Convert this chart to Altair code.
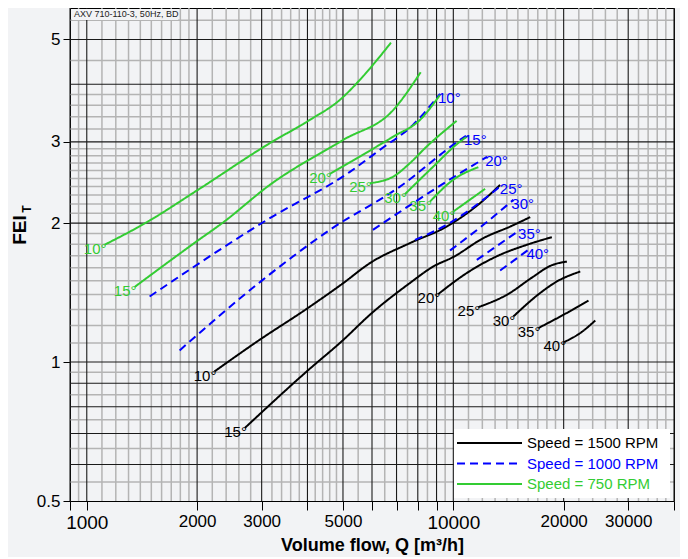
import altair as alt
import pandas as pd

# ---------------- curve data: Q [m3/h], FEI_T ----------------
# Speed = 1500 RPM (black, solid) - label at curve start
b10_q = [2230, 2960, 3980, 5010, 5920, 7610, 9590, 11830, 13420]
b10_f = [0.954, 1.117, 1.304, 1.483, 1.638, 1.810, 1.966, 2.210, 2.420]
b15_q = [2700, 3980, 5010, 5920, 7610, 8820, 10000, 12080, 14290, 16210]
b15_f = [0.720, 0.954, 1.117, 1.266, 1.483, 1.611, 1.689, 1.856, 1.966, 2.061]
b20_q = [9100, 10880, 13420, 15870, 18570]
b20_f = [1.404, 1.559, 1.708, 1.795, 1.865]
b25_q = [11700, 14000, 16540, 18380, 20410]
b25_f = [1.315, 1.399, 1.532, 1.616, 1.651]
b30_q = [14580, 17250, 19170, 22200]
b30_f = [1.255, 1.411, 1.495, 1.571]
b35_q = [17070, 19970, 23380]
b35_f = [1.185, 1.266, 1.359]
b40_q = [20070, 22200, 24390]
b40_f = [1.105, 1.156, 1.230]

# Speed = 1000 RPM (blue, dashed) - label at curve end
u10_q = [1484, 3157, 5222, 6304, 7762, 9198]
u10_f = [1.387, 2.050, 2.583, 2.883, 3.265, 3.811]
u15_q = [1792, 3020, 4604, 7151, 10430, 10830]
u15_f = [1.060, 1.507, 1.934, 2.400, 3.029, 3.090]
u20_q = [6035, 10430, 12370]
u20_f = [1.934, 2.566, 2.784]
u25_q = [7860, 9795, 12060, 13560]
u25_f = [1.840, 2.003, 2.246, 2.420]
u30_q = [9795, 12080, 14580]
u30_f = [1.745, 1.983, 2.246]
u35_q = [11590, 15210]
u35_f = [1.665, 1.934]
u40_q = [13420, 16030]
u40_f = [1.579, 1.751]

# Speed = 750 RPM (green, solid) - label at curve start
g10_q = [1118, 1453, 1990, 3157, 4060, 4901, 5559, 6035, 6759]
g10_f = [1.795, 2.006, 2.349, 2.980, 3.347, 3.698, 4.087, 4.404, 4.921]
g15_q = [1350, 1990, 2353, 3157, 5006, 6858, 8146]
g15_f = [1.454, 1.824, 2.006, 2.420, 3.029, 3.518, 4.246]
g20_q = [4604, 5559, 6858, 8110, 9198]
g20_f = [2.557, 2.788, 3.080, 3.347, 3.792]
g25_q = [5920, 6858, 7614, 8458, 10210]
g25_f = [2.441, 2.523, 2.698, 2.930, 3.331]
g30_q = [7379, 8819, 10430, 10970]
g30_f = [2.311, 2.652, 3.004, 3.090]
g35_q = [8636, 9982, 11700]
g35_f = [2.227, 2.481, 2.644]
g40_q = [10000, 12210]
g40_f = [2.119, 2.373]

speeds = ["1500", "1000", "750"]
speed_colors = ["#000000", "#0000ff", "#33cc33"]
legend_labels = ["Speed = 1500 RPM", "Speed = 1000 RPM", "Speed = 750 RPM"]

# grid / axis values
x_major = [900, 1000, 2000, 3000, 4000, 5000, 6000, 7000, 8000, 9000, 10000, 20000, 30000, 40000]
x_minor = [950, 1100, 1200, 1300, 1400, 1500, 1600, 1700, 1800, 1900,
           2200, 2400, 2600, 2800, 3200, 3400, 3600, 3800, 4200, 4400, 4600, 4800,
           5500, 6500, 7500, 8500, 9500,
           11000, 12000, 13000, 14000, 15000, 16000, 17000, 18000, 19000,
           22000, 24000, 26000, 28000, 32000, 34000, 36000, 38000]
x_labels = [1000, 2000, 3000, 5000, 10000, 20000, 30000]
y_major = [0.6, 0.7, 0.8, 0.9, 1, 2, 3, 4, 5]
y_minor = [0.55, 0.65, 0.75, 0.85, 0.95,
           1.1, 1.2, 1.3, 1.4, 1.5, 1.6, 1.7, 1.8, 1.9,
           2.1, 2.2, 2.3, 2.4, 2.5, 2.6, 2.7, 2.8, 2.9,
           3.2, 3.4, 3.6, 3.8, 4.5, 5.5]
y_labels = [0.5, 1, 2, 3, 5]

curves = [
    ("1500", "10°", b10_q, b10_f), ("1500", "15°", b15_q, b15_f), ("1500", "20°", b20_q, b20_f),
    ("1500", "25°", b25_q, b25_f), ("1500", "30°", b30_q, b30_f), ("1500", "35°", b35_q, b35_f),
    ("1500", "40°", b40_q, b40_f),
    ("1000", "10°", u10_q, u10_f), ("1000", "15°", u15_q, u15_f), ("1000", "20°", u20_q, u20_f),
    ("1000", "25°", u25_q, u25_f), ("1000", "30°", u30_q, u30_f), ("1000", "35°", u35_q, u35_f),
    ("1000", "40°", u40_q, u40_f),
    ("750", "10°", g10_q, g10_f), ("750", "15°", g15_q, g15_f), ("750", "20°", g20_q, g20_f),
    ("750", "25°", g25_q, g25_f), ("750", "30°", g30_q, g30_f), ("750", "35°", g35_q, g35_f),
    ("750", "40°", g40_q, g40_f),
]

rows, start_labels, end_labels = [], [], []
for spd, ang, qs, fs in curves:
    for i, (q, f) in enumerate(zip(qs, fs)):
        rows.append({"speed": spd, "key": spd + ang, "q": q, "f": f, "i": i})
    if spd == "1000":
        end_labels.append({"speed": spd, "q": qs[-1], "f": fs[-1], "t": ang})
    else:
        start_labels.append({"speed": spd, "q": qs[0], "f": fs[0], "t": ang})
df = pd.DataFrame(rows)

FONT = "Liberation Sans"
xscale = alt.Scale(type="log", domain=[900, 40000], nice=False)
yscale = alt.Scale(type="log", domain=[0.5, 5.85], nice=False)
label_test = " || ".join(f"datum.value == {v}" for v in x_labels)
xaxis = alt.Axis(
    title="Volume flow, Q [m³/h]", values=x_major, grid=False, domain=False,
    labelExpr=f"({label_test}) ? format(datum.value, 'd') : ''",
    labelOverlap=False, labelFlush=False, labelBound=False,
    labelFontSize={"condition": {"test": "datum.value == 1000 || datum.value == 10000", "value": 19}, "value": 17},
    labelPadding=3, tickSize=9, tickColor="#000", labelColor="#000", labelFont=FONT,
    titleFont=FONT, titleFontSize=18, titleFontWeight="bold", titleColor="#000", titlePadding=4,
)
yaxis = alt.Axis(
    title=None, values=y_labels, grid=False, domain=False,
    labelExpr="format(datum.value, '~g')", labelOverlap=False, labelFlush=False,
    labelFontSize=17, labelPadding=3, tickSize=7, tickColor="#000", labelColor="#000", labelFont=FONT,
)


def X(field):
    return alt.X(f"{field}:Q", scale=xscale, axis=xaxis)


def Y(field):
    return alt.Y(f"{field}:Q", scale=yscale, axis=yaxis)


color_enc = alt.Color("speed:N", scale=alt.Scale(domain=speeds, range=speed_colors), legend=None)

MINOR = "#b4b4b4"
MAJOR = "#1a1a1a"
gx_minor = alt.Chart(pd.DataFrame({"v": x_minor})).mark_rule(color=MINOR, strokeWidth=1.5).encode(x=X("v"))
gy_minor = alt.Chart(pd.DataFrame({"v": y_minor})).mark_rule(color=MINOR, strokeWidth=1.5).encode(y=Y("v"))
gx_major = alt.Chart(pd.DataFrame({"v": x_major})).mark_rule(color=MAJOR, strokeWidth=1.1).encode(x=X("v"))
gy_major = alt.Chart(pd.DataFrame({"v": y_major})).mark_rule(color=MAJOR, strokeWidth=1.1).encode(y=Y("v"))

lines = alt.Chart(df).mark_line(strokeWidth=2, interpolate="monotone").encode(
    x=X("q"), y=Y("f"), color=color_enc,
    strokeDash=alt.StrokeDash("speed:N", scale=alt.Scale(domain=speeds, range=[[1, 0], [8, 5], [1, 0]]), legend=None),
    detail="key:N", order="i:Q",
)

lab_start = alt.Chart(pd.DataFrame(start_labels)).mark_text(
    align="right", baseline="alphabetic", dx=2, dy=9, font=FONT, fontSize=15
).encode(x=X("q"), y=Y("f"), text="t:N", color=color_enc)
lab_end = alt.Chart(pd.DataFrame(end_labels)).mark_text(
    align="left", baseline="alphabetic", dx=-2, dy=9, font=FONT, fontSize=15
).encode(x=X("q"), y=Y("f"), text="t:N", color=color_enc)

# annotation in top-left corner
note_bg = alt.Chart(pd.DataFrame({"a": [0]})).mark_rect(color="#f2f3f5").encode(
    x=alt.value(2), x2=alt.value(108), y=alt.value(1), y2=alt.value(12))
note = alt.Chart(pd.DataFrame({"t": ["AXV 710-110-3, 50Hz, BD"]})).mark_text(
    align="left", baseline="alphabetic", font=FONT, fontSize=9, color="#222"
).encode(x=alt.value(4), y=alt.value(9), text="t:N")

# legend box
leg_layers = [alt.Chart(pd.DataFrame({"a": [0]})).mark_rect(color="#ffffff").encode(
    x=alt.value(384), x2=alt.value(600), y=alt.value(421), y2=alt.value(490))]
dashes = [[1, 0], [8, 5], [1, 0]]
for k, (lab, col, dash) in enumerate(zip(legend_labels, speed_colors, dashes)):
    yy = 435 + 20.5 * k
    leg_layers.append(alt.Chart(pd.DataFrame({"a": [0]})).mark_rule(
        color=col, strokeWidth=2, strokeDash=dash).encode(
        x=alt.value(387), x2=alt.value(452), y=alt.value(yy)))
    leg_layers.append(alt.Chart(pd.DataFrame({"t": [lab]})).mark_text(
        align="left", baseline="middle", font=FONT, fontSize=15, color=col).encode(
        x=alt.value(457), y=alt.value(yy), text="t:N"))

# y title FEI with subscript T
ytitle = alt.Chart(pd.DataFrame({"t": ["FEI"]})).mark_text(
    angle=270, align="center", baseline="middle", font=FONT, fontSize=19, fontWeight="bold", color="#000"
).encode(x=alt.value(-50), y=alt.value(222), text="t:N")
ysub = alt.Chart(pd.DataFrame({"t": ["T"]})).mark_text(
    angle=270, align="center", baseline="middle", font=FONT, fontSize=12, fontWeight="bold", color="#000"
).encode(x=alt.value(-43), y=alt.value(201), text="t:N")

chart = alt.layer(
    gx_minor, gy_minor, gx_major, gy_major, lines, lab_start, lab_end,
    note_bg, note, *leg_layers, ytitle, ysub
).properties(
    width=604, height=493,
    autosize=alt.AutoSizeParams(type="none"),
    padding={"left": 62, "top": 0, "right": 6, "bottom": 56},
    background="#f2f3f5",
).configure_view(stroke="#000", strokeWidth=1)

chart.save("out.html", embed_options={"renderer": "svg", "actions": False})
